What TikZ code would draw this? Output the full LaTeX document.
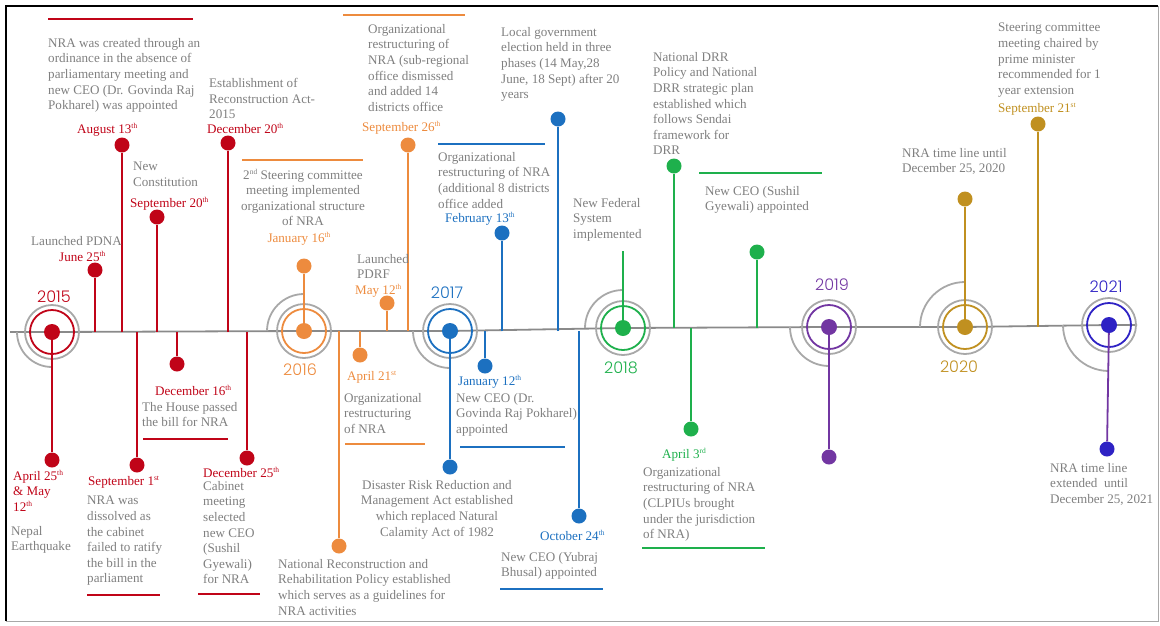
\documentclass[tikz,border=0pt]{standalone}
\usepackage{fontspec}
\setmainfont{Liberation Serif}
\newfontfamily\yearface{Poppins Light}
\usepackage{tikz}

\definecolor{nrared}{HTML}{C00418}
\definecolor{nraorange}{HTML}{ED8B3E}
\definecolor{nrablue}{HTML}{1C70C0}
\definecolor{nragreen}{HTML}{1EB04C}
\definecolor{nrapurple}{HTML}{7236A2}
\definecolor{nragold}{HTML}{C09020}
\definecolor{nraindigo}{HTML}{2E22C4}
\definecolor{txtgray}{HTML}{7F7F7F}
\definecolor{ringgray}{HTML}{A8A8A8}
\definecolor{axisgray}{HTML}{8A8A8A}

\newcommand\notesize{\fontsize{13.1}{15.6}\selectfont}
\newcommand\ord[1]{\raisebox{4.6pt}{\fontsize{7.5}{7.5}\selectfont #1}}

\begin{document}
\begin{tikzpicture}[x=1pt, y=1pt,
  evdot/.style={circle, fill=#1, inner sep=0pt, minimum size=15pt},
  yrdot/.style={circle, fill=#1, inner sep=0pt, minimum size=16pt},
  stem/.style={draw=#1, line width=1.8pt},
  ring/.style={draw=#1, line width=1.8pt},
  uline/.style={draw=#1, line width=1.7pt},
  notetxt/.style={text=txtgray, font=\notesize, align=left, anchor=north west, inner sep=0pt},
  cnotetxt/.style={notetxt, align=center, anchor=north},
  datelbl/.style={text=#1, font=\notesize, anchor=north west, inner sep=0pt},
  yearlbl/.style={text=#1, font=\yearface\fontsize{16}{18}\selectfont, inner sep=0pt}]

  \useasboundingbox (0,0) rectangle (1160,-625);

  % Frame
  \draw[black, line width=2.5pt] (6,-621) -- (6,-6) -- (1158,-6);
  \draw[ringgray, line width=1pt] (1158,-6) -- (1158,-621) -- (6,-621);

  % Year centres and the time axis
  \coordinate (y15) at (52,-332);
  \coordinate (y16) at (304,-331);
  \coordinate (y17) at (450,-331);
  \coordinate (y18) at (623,-328);
  \coordinate (y19) at (829,-327);
  \coordinate (y20) at (965,-327);
  \coordinate (y21) at (1109,-325);
  \coordinate (axl) at (10,-332);
  \coordinate (axr) at (1137,-325);
  \draw[axisgray, line width=1.8pt] (axl) -- (y15) -- (y16) -- (y17) -- (y18) -- (y19) -- (y20) -- (y21) -- (axr);

  % 2015
  \draw[ring=ringgray] ([xshift=-35pt]y15) arc[start angle=180, end angle=270, radius=35pt];
  \draw[ring=ringgray] (y15) circle[radius=27pt];
  \draw[ring=nrared] (y15) circle[radius=22pt];
  \node[yrdot=nrared] (d15) at (y15) {};
  \node[yearlbl=nrared] (l15) at (54,-297) {2015};

  \node[evdot=nrared] (jun25) at (95,-270) {};
  \node[evdot=nrared] (aug13) at (122,-145) {};
  \node[evdot=nrared] (sep20) at (157,-217) {};
  \node[evdot=nrared] (dec20) at (228,-143) {};
  \node[evdot=nrared] (apr25) at (52,-460) {};
  \node[evdot=nrared] (sep01) at (137,-465) {};
  \node[evdot=nrared] (dec16) at (177,-364) {};
  \node[evdot=nrared] (dec25) at (247,-458) {};
  \draw[stem=nrared] (d15) -- (apr25);
  \draw[stem=nrared] (jun25 |- y15) -- (jun25);
  \draw[stem=nrared] (aug13 |- y15) -- (aug13);
  \draw[stem=nrared] (sep20 |- y15) -- (sep20);
  \draw[stem=nrared] (dec20 |- y15) -- (dec20);
  \draw[stem=nrared] (sep01 |- y15) -- (sep01);
  \draw[stem=nrared] (dec16 |- y15) -- (dec16);
  \draw[stem=nrared] (dec25 |- y15) -- (dec25);

  \draw[uline=nrared] (48,-19) -- (193,-19);
  \node[notetxt] (t-aug13) at (48,-38) {NRA was created through an\\ordinance in the absence of\\parliamentary meeting and\\new CEO (Dr. Govinda Raj\\Pokharel) was appointed};
  \node[datelbl=nrared] (l-aug13) at (77,-123) {August 13\ord{th}};
  \node[notetxt] (t-sep20) at (133,-162) {New\\Constitution};
  \node[datelbl=nrared] (l-sep20) at (130,-197) {September 20\ord{th}};
  \node[notetxt] (t-dec20) at (209,-78) {Establishment of\\Reconstruction Act-\\2015};
  \node[datelbl=nrared] (l-dec20) at (207,-123) {December 20\ord{th}};
  \node[notetxt] (t-jun25) at (31,-236) {Launched PDNA};
  \node[datelbl=nrared] (l-jun25) at (59,-251) {June 25\ord{th}};
  \node[datelbl=nrared, align=left] (l-apr25) at (13,-470) {April 25\ord{th}\\\& May\\12\ord{th}};
  \node[notetxt] (t-apr25) at (11,-526) {Nepal\\Earthquake};
  \node[datelbl=nrared] (l-sep01) at (88,-476) {September 1\ord{st}};
  \node[notetxt] (t-sep01) at (87,-496) {NRA was\\dissolved as\\the cabinet\\failed to ratify\\the bill in the\\parliament};
  \draw[uline=nrared] (87,-595) -- (160,-595);
  \node[datelbl=nrared] (l-dec16) at (155,-385) {December 16\ord{th}};
  \node[notetxt] (t-dec16) at (142,-402) {The House passed\\the bill for NRA};
  \draw[uline=nrared] (143,-439) -- (228,-439);
  \node[datelbl=nrared] (l-dec25) at (203,-467) {December 25\ord{th}};
  \node[notetxt] (t-dec25) at (203,-481) {Cabinet\\meeting\\selected\\new CEO\\(Sushil\\Gyewali)\\for NRA};
  \draw[uline=nrared] (198,-594) -- (260,-594);

  % 2016
  \draw[ring=ringgray] ([xshift=-37pt]y16) arc[start angle=180, end angle=90, radius=37pt];
  \draw[ring=ringgray] (y16) circle[radius=27pt];
  \draw[ring=nraorange] (y16) circle[radius=22pt];
  \node[yrdot=nraorange] (d16) at (y16) {};
  \node[yearlbl=nraorange] (l16) at (300,-370) {2016};

  \node[evdot=nraorange] (jan16) at (304,-266) {};
  \node[evdot=nraorange] (may12) at (387,-303) {};
  \node[evdot=nraorange] (sep26) at (408,-145) {};
  \node[evdot=nraorange] (apr21) at (360,-355) {};
  \node[evdot=nraorange] (nrrp) at (339,-546) {};
  \draw[stem=nraorange] (d16) -- (jan16);
  \draw[stem=nraorange] (may12 |- y16) -- (may12);
  \draw[stem=nraorange] (sep26 |- y16) -- (sep26);
  \draw[stem=nraorange] (apr21 |- y16) -- (apr21);
  \draw[stem=nraorange] (nrrp |- y16) -- (nrrp);

  \draw[uline=nraorange] (242,-160) -- (363,-160);
  \node[cnotetxt] (t-jan16) at (303,-169) {2\ord{nd} Steering committee\\meeting implemented\\organizational structure\\of NRA};
  \node[datelbl=nraorange, anchor=north] (l-jan16) at (299,-232) {January 16\ord{th}};
  \node[notetxt] (t-may12) at (357,-254) {Launched\\PDRF};
  \node[datelbl=nraorange] (l-may12) at (355,-284) {May 12\ord{th}};
  \draw[uline=nraorange] (343,-15) -- (465,-15);
  \node[notetxt] (t-sep26) at (368,-24) {Organizational\\restructuring of\\NRA (sub-regional\\office dismissed\\and added 14\\districts office};
  \node[datelbl=nraorange] (l-sep26) at (362,-121) {September 26\ord{th}};
  \node[datelbl=nraorange] (l-apr21) at (347,-371) {April 21\ord{st}};
  \node[notetxt] (t-apr21) at (344,-393) {Organizational\\restructuring\\of NRA};
  \draw[uline=nraorange] (345,-444) -- (425,-444);
  \node[notetxt] (t-nrrp) at (278,-559) {National Reconstruction and\\Rehabilitation Policy established\\which serves as a guidelines for\\NRA activities};

  % 2017
  \draw[ring=ringgray] ([xshift=-37pt]y17) arc[start angle=180, end angle=270, radius=37pt];
  \draw[ring=ringgray] (y17) circle[radius=27pt];
  \draw[ring=nrablue] (y17) circle[radius=22pt];
  \node[yrdot=nrablue] (d17) at (y17) {};
  \node[yearlbl=nrablue] (l17) at (447,-293) {2017};

  \node[evdot=nrablue] (drrm) at (450,-467) {};
  \node[evdot=nrablue] (jan12) at (485,-366) {};
  \node[evdot=nrablue] (feb13) at (502,-233) {};
  \node[evdot=nrablue] (local) at (558,-119) {};
  \node[evdot=nrablue] (oct24) at (579,-516) {};
  \draw[stem=nrablue] (d17) -- (drrm);
  \draw[stem=nrablue] (jan12 |- y17) -- (jan12);
  \draw[stem=nrablue] (feb13 |- y17) -- (feb13);
  \draw[stem=nrablue] (local |- y17) -- (local);
  \draw[stem=nrablue] (oct24 |- y17) -- (oct24);

  \node[cnotetxt] (t-drrm) at (437,-480) {Disaster Risk Reduction and\\Management Act established\\which replaced Natural\\Calamity Act of 1982};
  \node[datelbl=nrablue] (l-jan12) at (458,-375) {January 12\ord{th}};
  \node[notetxt] (t-jan12) at (456,-393) {New CEO (Dr.\\Govinda Raj Pokharel)\\appointed};
  \draw[uline=nrablue] (460,-447) -- (565,-447);
  \draw[uline=nrablue] (438,-144) -- (545,-144);
  \node[notetxt] (t-feb13) at (438,-152) {Organizational\\restructuring of NRA\\(additional 8 districts\\office added};
  \node[datelbl=nrablue] (l-feb13) at (445,-212) {February 13\ord{th}};
  \node[notetxt] (t-local) at (501,-27) {Local government\\election held in three\\phases (14 May,28\\June, 18 Sept) after 20\\years};
  \node[datelbl=nrablue] (l-oct24) at (540,-530) {October 24\ord{th}};
  \node[notetxt] (t-oct24) at (501,-552) {New CEO (Yubraj\\Bhusal) appointed};
  \draw[uline=nrablue] (500,-589) -- (603,-589);

  % 2018
  \draw[ring=ringgray] ([xshift=-38pt]y18) arc[start angle=180, end angle=90, radius=38pt];
  \draw[ring=ringgray] (y18) circle[radius=27pt];
  \draw[ring=nragreen] (y18) circle[radius=22pt];
  \node[yrdot=nragreen] (d18) at (y18) {};
  \node[yearlbl=nragreen] (l18) at (621,-368) {2018};

  \coordinate (federal) at (623,-251);
  \node[evdot=nragreen] (drrpol) at (674,-166) {};
  \node[evdot=nragreen] (ceo18) at (757,-252) {};
  \node[evdot=nragreen] (apr03) at (691,-429) {};
  \draw[stem=nragreen] (d18) -- (federal);
  \draw[stem=nragreen] (drrpol |- y18) -- (drrpol);
  \draw[stem=nragreen] (ceo18 |- y18) -- (ceo18);
  \draw[stem=nragreen] (apr03 |- y18) -- (apr03);

  \node[notetxt] (t-federal) at (573,-198) {New Federal\\System\\implemented};
  \node[notetxt] (t-drrpol) at (653,-52) {National DRR\\Policy and National\\DRR strategic plan\\established which\\follows Sendai\\framework for\\DRR};
  \draw[uline=nragreen] (699,-173) -- (822,-173);
  \node[notetxt] (t-ceo18) at (705,-186) {New CEO (Sushil\\Gyewali) appointed};
  \node[datelbl=nragreen] (l-apr03) at (662,-448) {April 3\ord{rd}};
  \node[notetxt] (t-apr03) at (643,-467) {Organizational\\restructuring of NRA\\(CLPIUs brought\\under the jurisdiction\\of NRA)};
  \draw[uline=nragreen] (642,-548) -- (765,-548);

  % 2019
  \draw[ring=ringgray] ([xshift=-39pt]y19) arc[start angle=180, end angle=270, radius=39pt];
  \draw[ring=ringgray] (y19) circle[radius=27pt];
  \draw[ring=nrapurple] (y19) circle[radius=22pt];
  \node[yrdot=nrapurple] (d19) at (y19) {};
  \node[yearlbl=nrapurple] (l19) at (832,-285) {2019};
  \node[evdot=nrapurple] (e19) at (829,-457) {};
  \draw[stem=nrapurple] (d19) -- (e19);

  % 2020
  \draw[ring=ringgray] ([xshift=-45pt]y20) arc[start angle=180, end angle=90, radius=45pt];
  \draw[ring=ringgray] (y20) circle[radius=27pt];
  \draw[ring=nragold] (y20) circle[radius=22pt];
  \node[yrdot=nragold] (d20) at (y20) {};
  \node[yearlbl=nragold] (l20) at (959,-367) {2020};

  \node[evdot=nragold] (nra20) at (965,-199) {};
  \node[evdot=nragold] (sep21) at (1038,-124) {};
  \draw[stem=nragold] (d20) -- (nra20);
  \draw[stem=nragold] (sep21 |- y20) -- (sep21);

  \node[notetxt] (t-nra20) at (902,-148) {NRA time line until\\December 25, 2020};
  \node[notetxt] (t-sep21) at (998,-23) {Steering committee\\meeting chaired by\\prime minister\\recommended for 1\\year extension};
  \node[datelbl=nragold] (l-sep21) at (998,-103) {September 21\ord{st}};

  % 2021
  \draw[ring=ringgray] ([xshift=-46pt]y21) arc[start angle=180, end angle=270, radius=46pt];
  \draw[ring=ringgray] (y21) circle[radius=27pt];
  \draw[ring=nraindigo] (y21) circle[radius=22pt];
  \node[yrdot=nraindigo] (d21) at (y21) {};
  \node[yearlbl=nraindigo] (l21) at (1106,-287) {2021};
  \node[evdot=nraindigo] (ext21) at (1107,-449) {};
  \draw[stem=nrapurple] (d21) -- (ext21);
  \node[notetxt] (t-ext21) at (1050,-463) {NRA time line\\extended\ \ until\\December 25, 2021};

\end{tikzpicture}
\end{document}
